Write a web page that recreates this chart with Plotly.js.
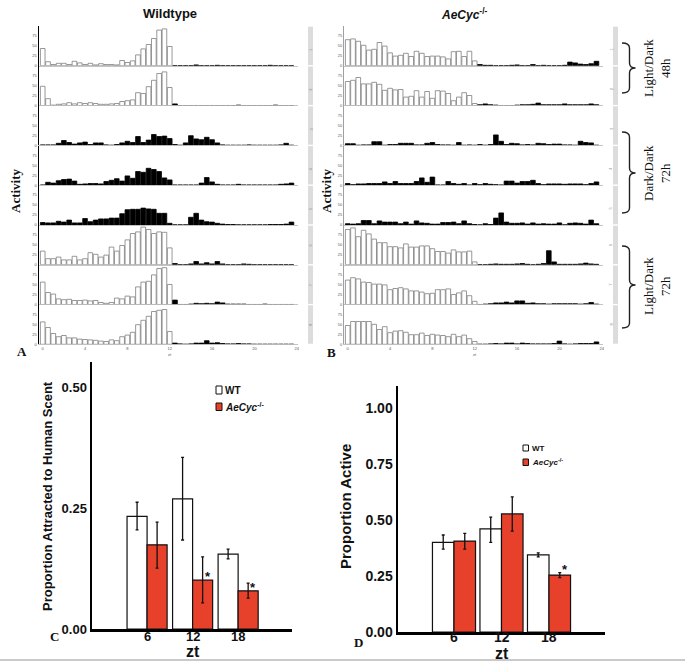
<!DOCTYPE html>
<html><head><meta charset="utf-8">
<script src="https://cdn.plot.ly/plotly-3.0.1.min.js"></script>
<style>html,body{margin:0;padding:0;background:#fff}#chart{width:685px;height:661px}</style>
</head><body><div id="chart"></div>
<script>
// ---- actogram data (activity per 30-min bin, 0..23.5 h) ----
const hours = [0,0.5,1,1.5,2,2.5,3,3.5,4,4.5,5,5.5,6,6.5,7,7.5,8,8.5,9,9.5,10,10.5,11,11.5,12,12.5,13,13.5,14,14.5,15,15.5,16,16.5,17,17.5,18,18.5,19,19.5,20,20.5,21,21.5,22,22.5,23,23.5];
const rowPhase = ['LD','LD','DD','DD','DD','LD','LD','LD'];
const lightEndHour = 12;
const xTicks = [0,4,8,12,16,20,24];
const yTicks = [0,25,50,75];

const wt1 = [43,10,3,6,6,3,11,7,3,6,2,5,3,3,2,13,8,12,27,42,53,68,89,92,48,0,0,0,0,2,0,0,0,1,0,0,0,0,0,0,0,0,0,1,0,0,0,0];
const wt2 = [48,17,1,3,4,7,4,7,5,7,5,3,3,4,5,10,12,14,32,30,47,63,80,84,45,4,0,0,0,0,0,0,0,0,0,0,0,1,0,0,0,0,0,0,1,0,0,0];
const wt3 = [1,1,1,5,12,7,3,6,8,2,6,6,1,0,2,6,10,7,22,7,13,27,22,23,17,2,0,6,24,16,14,20,14,6,1,0,0,0,0,1,0,0,0,0,0,1,5,0];
const wt4 = [0,7,5,11,14,15,10,2,3,4,4,3,9,12,16,10,23,17,34,32,42,39,34,18,13,0,0,0,0,0,5,19,8,2,0,0,0,2,0,0,0,0,0,0,0,2,3,5];
const wt5 = [6,5,5,9,7,12,5,5,16,8,12,15,15,17,17,28,38,39,39,42,40,39,29,29,4,0,0,0,19,29,12,8,7,4,2,1,1,0,0,0,0,0,0,1,1,1,2,7];
const wt6 = [34,15,15,19,12,12,21,12,15,30,26,19,24,44,34,48,62,78,82,94,88,78,82,81,42,3,0,0,2,8,2,5,2,8,2,0,0,0,2,1,0,0,0,0,0,0,0,0];
const wt7 = [56,30,26,14,12,13,10,10,11,9,10,5,3,5,16,14,21,19,44,56,58,74,90,92,50,11,0,0,1,3,2,3,2,6,4,1,1,1,1,0,0,0,1,0,0,0,0,0];
const wt8 = [56,42,27,19,22,16,16,13,12,11,10,8,7,11,9,19,23,30,49,60,70,82,85,87,32,3,1,0,1,3,3,9,3,4,2,1,1,2,1,1,0,0,0,0,0,0,0,0];

const cyc1 = [65,67,61,51,39,41,58,49,32,24,26,31,23,36,31,23,24,24,22,17,35,36,23,36,12,3,1,1,0,0,0,1,2,0,0,3,0,1,0,0,0,1,9,7,4,3,5,11];
const cyc2 = [60,63,70,54,54,58,53,38,43,39,40,21,23,37,21,35,18,37,36,30,12,21,32,25,5,2,4,2,1,0,0,0,1,2,2,3,6,2,2,2,2,4,2,2,2,2,4,2];
const cyc3 = [4,4,0,1,1,9,9,0,2,2,5,5,5,1,1,5,7,2,1,1,0,7,0,1,0,2,0,2,26,10,2,5,4,1,2,1,5,4,2,3,3,1,1,0,10,7,6,0];
const cyc4 = [4,1,3,3,4,4,4,8,4,9,4,4,4,9,18,7,20,0,0,9,4,2,4,0,4,1,4,2,1,0,10,10,5,9,9,12,4,1,3,3,3,2,3,3,3,1,4,8];
const cyc5 = [3,2,3,11,11,3,10,7,7,7,3,7,2,10,5,4,2,2,6,6,7,3,10,3,1,0,3,1,17,30,7,4,4,5,2,5,2,3,2,2,5,0,4,5,4,2,12,3];
const cyc6 = [88,92,70,86,77,64,55,55,45,45,42,52,44,44,47,47,40,33,33,29,37,32,32,34,7,0,0,1,2,1,1,1,2,3,1,0,1,3,35,7,1,1,1,1,2,4,2,1];
const cyc7 = [61,67,64,56,55,51,51,49,37,40,42,39,34,34,31,27,28,37,37,39,25,29,34,22,8,0,1,2,4,4,6,4,9,9,3,4,2,2,1,2,2,2,2,2,1,2,5,1];
const cyc8 = [47,57,57,57,57,50,37,44,29,33,34,30,24,24,28,22,25,23,22,19,25,19,23,14,7,0,0,1,2,1,3,3,1,3,2,1,1,1,1,2,8,1,0,1,2,2,2,6];

// ---- bar chart data ----
const zt = [6,12,18];
const attractWT = [0.233,0.269,0.155];
const attractWTUp = [0.029,0.086,0.010];
const attractWTDown = [0.028,0.085,0.010];
const attractCyc = [0.174,0.101,0.079];
const attractCycUp = [0.047,0.048,0.016];
const attractCycDown = [0.048,0.047,0.015];
const attractSig = [false,true,true];

const activeWT = [0.400,0.460,0.344];
const activeWTUp = [0.033,0.053,0.009];
const activeWTDown = [0.030,0.060,0.009];
const activeCyc = [0.406,0.527,0.254];
const activeCycUp = [0.034,0.076,0.011];
const activeCycDown = [0.036,0.077,0.011];
const activeSig = [false,false,true];

// ---- build ----
const W = 685, H = 661;
const fx = x => x / W;
const fy = y => 1 - y / H;
const P = (x, y) => fx(x).toFixed(5) + ',' + fy(y).toFixed(5);
const RED = '#e8412b';
const SANS = 'Liberation Sans, Arial, sans-serif';
const SERIF = 'Liberation Serif, Times New Roman, serif';

const traces = [];
const shapes = [];
const annotations = [];
const layout = {
  width: W, height: H,
  margin: {l: 0, r: 0, t: 0, b: 0},
  paper_bgcolor: '#ffffff', plot_bgcolor: 'rgba(0,0,0,0)',
  showlegend: false, barmode: 'overlay'
};
const axSuffix = n => (n === 1 ? '' : String(n));

const panels = [
  {rows: [wt1, wt2, wt3, wt4, wt5, wt6, wt7, wt8], x0: 39, x1: 298, lineColor: '#000', lineWidth: 1.5, strip: [308, 313]},
  {rows: [cyc1, cyc2, cyc3, cyc4, cyc5, cyc6, cyc7, cyc8], x0: 344, x1: 603, lineColor: '#a0a0a0', lineWidth: 1, strip: [613, 618]}
];

panels.forEach((pan, p) => {
  pan.rows.forEach((vals, r) => {
    const n = p * 8 + r + 1;
    const s = axSuffix(n);
    const b = 65.7 + 39.8 * r;
    const t = b - 39.6;
    layout['xaxis' + s] = {
      domain: [fx(pan.x0), fx(pan.x1)], range: [-0.35, 24.12], anchor: 'y' + s,
      showline: true, linecolor: '#b5b5b5', linewidth: 0.8, ticks: '', showgrid: false, zeroline: false,
      showticklabels: r === 7, tickvals: xTicks, tickfont: {size: 4, color: '#555', family: SANS}, fixedrange: true
    };
    layout['yaxis' + s] = {
      domain: [fy(b), fy(t)], range: [0, 99], anchor: 'x' + s,
      showline: true, linecolor: pan.lineColor, linewidth: pan.lineWidth, ticks: '',
      tickvals: yTicks, tickfont: {size: 4, color: '#555', family: SANS},
      showgrid: false, zeroline: false, fixedrange: true
    };
    const isLight = hours.map(h => rowPhase[r] === 'LD' && h <= lightEndHour);
    traces.push({
      type: 'bar', x: hours, y: vals, xaxis: 'x' + s, yaxis: 'y' + s, width: 0.44,
      marker: {color: isLight.map(l => l ? '#ffffff' : '#000000'),
               line: {color: isLight.map(l => l ? '#7d7d7d' : '#000000'), width: 0.8}},
      hoverinfo: 'skip'
    });
    shapes.push({type: 'rect', xref: 'paper', yref: 'paper',
      x0: fx(pan.strip[0]), x1: fx(pan.strip[1]), y0: fy(b - 0.6), y1: fy(t + 0.6),
      fillcolor: '#dcdcdc', line: {width: 0}, layer: 'below'});
    annotations.push({xref: 'paper', yref: 'paper', x: fx((pan.strip[0] + pan.strip[1]) / 2), y: fy((b + t) / 2),
      text: String(r + 1), showarrow: false, textangle: -90, font: {size: 4, color: '#8a8a8a', family: SANS}});
    if (r === 7) {
      annotations.push({xref: 'x' + s, yref: 'paper', x: 12, y: fy(354), text: 'zt', showarrow: false,
        font: {size: 4, color: '#555', family: SANS}});
    }
  });
});

// ---- bar charts C and D ----
function barPanel(n, dom, xr, yr, ticks, ticktext, tickSize, wtVals, wtUp, wtDown, cVals, cUp, cDown, sig, w, astShift, labelY) {
  const s = String(n);
  layout['xaxis' + s] = {
    domain: [fx(dom[0]), fx(dom[1])], range: xr, anchor: 'y' + s,
    showline: true, linecolor: '#000', linewidth: 2.5, ticks: '', showgrid: false, zeroline: false,
    tickvals: zt, showticklabels: false
  };
  layout['yaxis' + s] = {
    domain: [fy(dom[3]), fy(dom[2])], range: yr, anchor: 'x' + s,
    showline: true, linecolor: '#000', linewidth: 2.5, ticks: '', showgrid: false, zeroline: false,
    tickvals: ticks, ticktext: ticktext, tickfont: {family: SANS, size: tickSize, color: '#111', weight: 'bold'}
  };
  zt.forEach(z => annotations.push({xref: 'x' + s, yref: 'paper', x: z, y: fy(labelY), text: String(z),
    showarrow: false, xanchor: 'center', yanchor: 'middle',
    font: {family: SANS, size: tickSize, color: '#111', weight: 'bold'}}));
  traces.push({type: 'bar', x: zt, y: wtVals, width: w, offset: -w, xaxis: 'x' + s, yaxis: 'y' + s,
    marker: {color: '#ffffff', line: {color: '#111', width: 1.2}},
    error_y: {type: 'data', symmetric: false, array: wtUp, arrayminus: wtDown, color: '#111', thickness: 1.3, width: 1.5},
    hoverinfo: 'skip'});
  traces.push({type: 'bar', x: zt, y: cVals, width: w, offset: 0, xaxis: 'x' + s, yaxis: 'y' + s,
    marker: {color: RED, line: {color: '#111', width: 1.2}},
    error_y: {type: 'data', symmetric: false, array: cUp, arrayminus: cDown, color: '#111', thickness: 1.3, width: 1.5},
    hoverinfo: 'skip'});
  zt.forEach((z, i) => {
    if (sig[i]) annotations.push({xref: 'x' + s, yref: 'y' + s, x: z + w / 2, y: cVals[i], text: '*',
      showarrow: false, xshift: 5, yshift: astShift, yanchor: 'bottom',
      font: {family: SANS, size: 13, color: '#111', weight: 'bold'}});
  });
}
barPanel(17, [92, 292, 362, 629], [-1.26, 25.1], [0, 0.552], [0, 0.25, 0.5], ['0.00', '0.25', '0.50'], 13,
  attractWT, attractWTUp, attractWTDown, attractCyc, attractCycUp, attractCycDown, attractSig, 2.64, -6, 636);
barPanel(18, [398, 605, 386, 632], [-1.07, 25.07], [0, 1.098], [0, 0.25, 0.5, 0.75, 1.0], ['0.00', '0.25', '0.50', '0.75', '1.00'], 14,
  activeWT, activeWTUp, activeWTDown, activeCyc, activeCycUp, activeCycDown, activeSig, 2.72, -4, 637);

// ---- text ----
function txt(x, y, text, font, extra) {
  annotations.push(Object.assign({xref: 'paper', yref: 'paper', x: fx(x), y: fy(y), text: text, showarrow: false,
    xanchor: 'center', yanchor: 'middle', font: font}, extra || {}));
}
txt(170, 14, 'Wildtype', {family: SANS, size: 13, color: '#111', weight: 'bold'});
txt(464, 14, '<b><i>AeCyc</i></b><sup>-/-</sup>', {family: SANS, size: 12, color: '#111', weight: 'bold'});
txt(16, 190, '<b>Activity</b>', {family: SERIF, size: 13, color: '#111'}, {textangle: -90});
txt(327, 191, '<b>Activity</b>', {family: SERIF, size: 13, color: '#111'}, {textangle: -90});
txt(22, 351, '<b>A</b>', {family: SERIF, size: 13, color: '#111'});
txt(331, 352, '<b>B</b>', {family: SERIF, size: 13, color: '#111'});
txt(54, 636, '<b>C</b>', {family: SERIF, size: 13, color: '#111'});
txt(358.5, 642, '<b>D</b>', {family: SERIF, size: 13, color: '#111'});

txt(657, 68, 'Light/Dark<br>48h', {family: SERIF, size: 13, color: '#111'}, {textangle: -90});
txt(657, 173, 'Dark/Dark<br>72h', {family: SERIF, size: 13, color: '#111'}, {textangle: -90});
txt(657, 286, 'Light/Dark<br>72h', {family: SERIF, size: 13, color: '#111'}, {textangle: -90});

txt(47, 496, 'Proportion Attracted to Human Scent', {family: SANS, size: 13, color: '#111', weight: 'bold'}, {textangle: -90});
txt(345, 507, 'Proportion Active', {family: SANS, size: 15, color: '#111', weight: 'bold'}, {textangle: -90});
txt(193, 651, 'zt', {family: SANS, size: 16, color: '#111', weight: 'bold'});
txt(502, 653, 'zt', {family: SANS, size: 16, color: '#111', weight: 'bold'});

// legends
function legendItem(x0, y0, w, h, fill, label, size) {
  shapes.push({type: 'rect', xref: 'paper', yref: 'paper', x0: fx(x0), x1: fx(x0 + w), y0: fy(y0 + h), y1: fy(y0),
    fillcolor: fill, line: {color: '#111', width: 1}});
  annotations.push({xref: 'paper', yref: 'paper', x: fx(x0 + w + 1.5), y: fy(y0 + h / 2), text: label, showarrow: false,
    xanchor: 'left', yanchor: 'middle', font: {family: SANS, size: size, color: '#111', weight: 'bold'}});
}
legendItem(216, 386, 6, 8, '#ffffff', '<b>WT</b>', 10);
legendItem(216, 403, 6, 7.5, RED, '<b><i>AeCyc</i></b><sup>-/-</sup>', 10);
legendItem(523, 445, 5.5, 6, '#ffffff', '<b>WT</b>', 8);
legendItem(523, 459, 5.5, 6.5, RED, '<b><i>AeCyc</i></b><sup>-/-</sup>', 8);

// brackets
function bracket(y1, ym, y2) {
  const xl = 622, xv = 629.5, xt = 635.5;
  const path = 'M' + P(xl, y1) + ' Q' + P(xv, y1) + ' ' + P(xv, y1 + 5) + ' L' + P(xv, ym - 5) +
    ' Q' + P(xv, ym) + ' ' + P(xt, ym) + ' Q' + P(xv, ym) + ' ' + P(xv, ym + 5) +
    ' L' + P(xv, y2 - 5) + ' Q' + P(xv, y2) + ' ' + P(xl, y2);
  shapes.push({type: 'path', xref: 'paper', yref: 'paper', path: path, line: {color: '#222', width: 1.4}});
}
bracket(43, 68, 93);
bracket(132, 173, 213);
bracket(246, 285, 328);

// bottom rule
shapes.push({type: 'line', xref: 'paper', yref: 'paper', x0: 0, x1: 1, y0: fy(660), y1: fy(660),
  line: {color: '#b8b8b8', width: 1.5}});

layout.shapes = shapes;
layout.annotations = annotations;
Plotly.newPlot('chart', traces, layout, {staticPlot: true, displayModeBar: false});
</script></body></html>
